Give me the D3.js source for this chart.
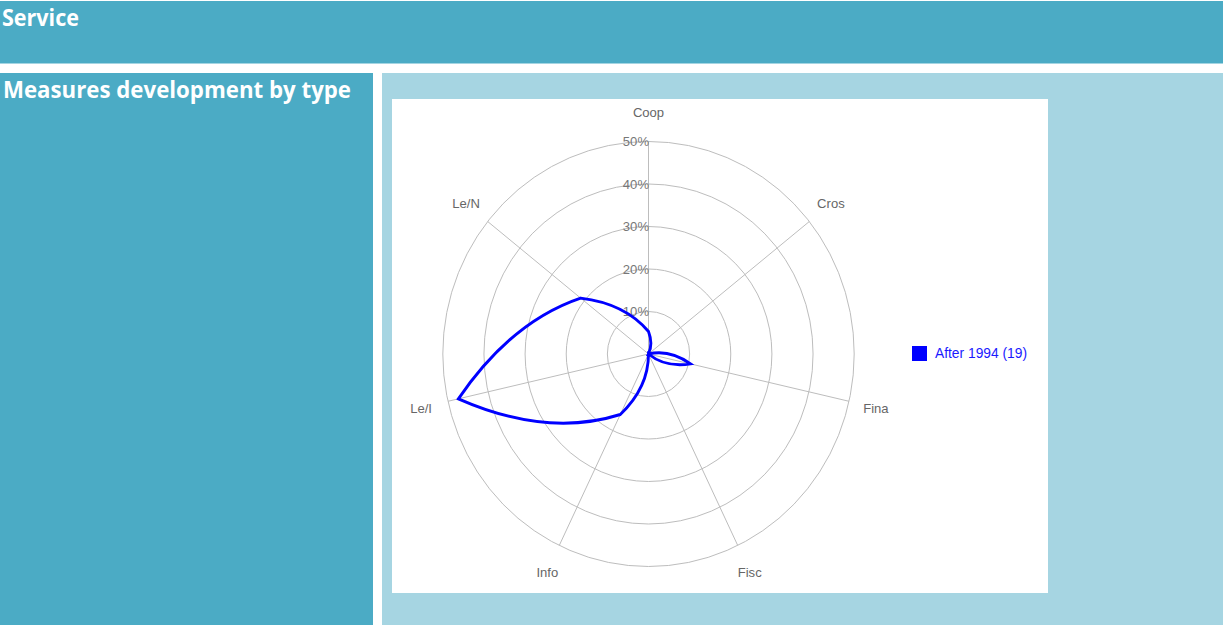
<!DOCTYPE html>
<html><head><meta charset="utf-8">
<script src="https://cdn.jsdelivr.net/npm/d3@7"></script>
<style>html,body{margin:0;padding:0;background:#fff;overflow:hidden}</style>
</head><body>
<script>
// ---- data ----
const categories = ["Coop", "Cros", "Fina", "Fisc", "Info", "Le/I", "Le/N"];
const seriesName = "After 1994 (19)";
const seriesValues = [5.3, 0, 10.5, 0, 15.8, 47.4, 21.1];
const ringTicks = [10, 20, 30, 40, 50];
const ringLabels = ["10%", "20%", "30%", "40%", "50%"];
const pageTitle = "Service";
const panelTitle = "Measures development by type";

// ---- layout ----
const W = 1223, H = 625;
const svg = d3.select("body").append("svg").attr("width", W).attr("height", H);

const dark = "#4BABC5", light = "#A6D5E2";
svg.append("rect").attr("x", 0).attr("y", 1).attr("width", W).attr("height", 62.5).attr("fill", dark);
svg.append("rect").attr("x", 0).attr("y", 73).attr("width", 373).attr("height", H - 73).attr("fill", dark);
svg.append("rect").attr("x", 382).attr("y", 73).attr("width", W - 382).attr("height", H - 73).attr("fill", light);
svg.append("rect").attr("x", 392).attr("y", 99).attr("width", 656).attr("height", 494).attr("fill", "#fff");

svg.append("text").attr("x", 2).attr("y", 26).text(pageTitle)
  .attr("font-family", "'Open Sans', sans-serif").attr("font-weight", 700).attr("font-size", 23)
  .attr("fill", "#fff").attr("textLength", 77).attr("lengthAdjust", "spacingAndGlyphs");
svg.append("text").attr("x", 3).attr("y", 98).text(panelTitle)
  .attr("font-family", "'Open Sans', sans-serif").attr("font-weight", 700).attr("font-size", 23)
  .attr("fill", "#fff").attr("textLength", 348).attr("lengthAdjust", "spacingAndGlyphs");

// ---- radar ----
const cx = 648.5, cy = 354, R = 212.5, sx = 0.968;
const n = categories.length;
const r = d3.scaleLinear().domain([0, 50]).range([0, R]);
const angle = d3.scaleLinear().domain([0, n]).range([0, 2 * Math.PI]);
const pt = (a, rad) => [rad * Math.sin(a), -rad * Math.cos(a)];

const g = svg.append("g").attr("transform", `translate(${cx},${cy}) scale(${sx},1)`);

const grid = g.append("g").attr("fill", "none").attr("stroke", "#bdbdbd")
  .attr("stroke-width", 1).attr("vector-effect", "non-scaling-stroke");
grid.selectAll("circle").data(ringTicks).join("circle")
  .attr("r", d => r(d)).attr("vector-effect", "non-scaling-stroke");
grid.selectAll("line").data(categories).join("line")
  .attr("x1", 0).attr("y1", 0)
  .attr("x2", (d, i) => pt(angle(i), R)[0])
  .attr("y2", (d, i) => pt(angle(i), R)[1]).attr("vector-effect", "non-scaling-stroke");

const font = "'Liberation Sans', Arial, sans-serif";
g.append("g").selectAll("text").data(ringTicks).join("text")
  .attr("x", 0.5).attr("y", d => -r(d)).attr("dy", "0.35em")
  .attr("text-anchor", "end").attr("font-family", font).attr("font-size", 13.5)
  .attr("fill", "#777").text((d, i) => ringLabels[i]);

g.append("g").selectAll("text").data(categories).join("text")
  .attr("x", (d, i) => 241 * Math.sin(angle(i)))
  .attr("y", (d, i) => -242 * Math.cos(angle(i)))
  .attr("dy", "0.35em").attr("text-anchor", "middle")
  .attr("font-family", font).attr("font-size", 13.5).attr("fill", "#666")
  .text(d => d);

// series curve
const pts = seriesValues.map((v, i) => pt(angle(i), r(v)));
const p = d3.path();
p.moveTo(pts[0][0], pts[0][1]);
for (let i = 0; i < n; i++) {
  const j = (i + 1) % n;
  const q = pt(angle(i + 0.5), (r(seriesValues[i]) + r(seriesValues[j])) / 2);
  p.quadraticCurveTo(q[0], q[1], pts[j][0], pts[j][1]);
}
p.closePath();
g.append("path").attr("d", p.toString()).attr("fill", "none")
  .attr("stroke", "#0000ff").attr("stroke-width", 2.9).attr("stroke-linejoin", "miter")
  .attr("vector-effect", "non-scaling-stroke");

// legend
svg.append("rect").attr("x", 912).attr("y", 346).attr("width", 15).attr("height", 15).attr("fill", "#0000ff");
svg.append("text").attr("x", 935).attr("y", 353.5).attr("dy", "0.35em")
  .attr("font-family", font).attr("font-size", 14).attr("fill", "#1a1aff")
  .attr("textLength", 92).attr("lengthAdjust", "spacingAndGlyphs").text(seriesName);
</script>
</body></html>
